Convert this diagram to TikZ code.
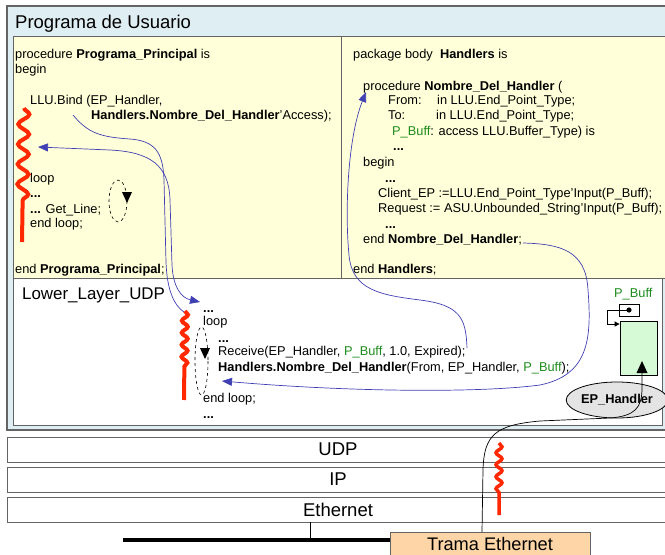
\documentclass[tikz,border=0pt]{standalone}
\usepackage{fontspec}
\setmainfont{Liberation Sans}
\usetikzlibrary{decorations.pathmorphing,arrows.meta,shapes.geometric}
\definecolor{outerbg}{RGB}{223,238,242}
\definecolor{framegray}{RGB}{100,100,100}
\definecolor{codebg}{RGB}{255,255,217}
\definecolor{linkblue}{RGB}{64,64,180}
\definecolor{threadred}{RGB}{255,40,0}
\definecolor{buffgreen}{RGB}{30,140,30}
\definecolor{buffbox}{RGB}{213,250,213}
\definecolor{tramafill}{RGB}{253,213,166}
\definecolor{ellgray}{RGB}{228,228,228}
\newcommand{\pbuf}{\textcolor{buffgreen}{P\_Buff}}
\begin{document}
\begin{tikzpicture}[x=1pt,y=-1pt,
  code/.style={anchor=base west,inner sep=0pt,font=\fontsize{12.8}{15}\selectfont},
  bigtxt/.style={anchor=base west,inner sep=0pt,font=\fontsize{18.5}{22}\selectfont},
  panel/.style={draw=framegray,line width=1pt},
  layerbox/.style={draw=framegray,line width=0.9pt,fill=white},
  layertxt/.style={inner sep=0pt,font=\fontsize{18.5}{22}\selectfont},
  link/.style={draw=linkblue,line width=0.7pt,-{Triangle[length=10pt,width=8pt]}},
  thread/.style={draw=threadred,line width=4pt,decorate},
  loopell/.style={draw=black,dashed,line width=0.6pt},
  looptip/.style={fill=black},
]
\useasboundingbox (0,0) rectangle (665,555);
\clip (0,0) rectangle (665,555);
% frames
\draw[panel,line width=1.3pt,fill=outerbg] (7,6) rectangle (690,430);
\draw[panel,fill=codebg] (13,36) rectangle (690,278);
\draw[panel] (341,36) -- (341,278);
\draw[panel,fill=white] (13,278) rectangle (662,425);
\node[bigtxt] (title) at (15,28) {Programa de Usuario};

% left panel code
\node[code] (pp1) at (15,58) {procedure \textbf{Programa\_Principal} is};
\node[code] (pp2) at (15,73) {begin};
\node[code] (bind1) at (30,104) {LLU.Bind (EP\_Handler,};
\node[code] (bind2) at (91,119) {\textbf{Handlers.Nombre\_Del\_Handler}'Access);};
\node[code] (lp1) at (30,182) {loop};
\node[code] (lp2) at (30,197) {\textbf{...}};
\node[code] (lp3) at (30,213) {\textbf{...} Get\_Line;};
\node[code] (lp4) at (30,227) {end loop;};
\node[code] (ppend) at (15,273) {end \textbf{Programa\_Principal};};

% right panel code
\node[code] (pkg) at (353,58) {package body\ \ \textbf{Handlers} is};
\node[code] (proc) at (363,90) {procedure \textbf{Nombre\_Del\_Handler} (};
\node[code] (from1) at (388,104) {From:};
\node[code] (from2) at (437,104) {in LLU.End\_Point\_Type;};
\node[code] (to1) at (388,119) {To:};
\node[code] (to2) at (436,119) {in LLU.End\_Point\_Type;};
\node[code] (pbp) at (392,135) {\pbuf: access LLU.Buffer\_Type) is};
\node[code] (d1) at (393,150) {\textbf{...}};
\node[code] (hbegin) at (363,166) {begin};
\node[code] (d2) at (385,182) {\textbf{...}};
\node[code] (cli) at (378,197) {Client\_EP :=LLU.End\_Point\_Type'Input(P\_Buff);};
\node[code] (req) at (378,212) {Request := ASU.Unbounded\_String'Input(P\_Buff);};
\node[code] (d3) at (385,228) {\textbf{...}};
\node[code] (endnh) at (363,243) {end \textbf{Nombre\_Del\_Handler};};
\node[code] (endh) at (353,273) {end \textbf{Handlers};};

% lower layer
\node[anchor=base west,inner sep=0pt,font=\fontsize{16.9}{20}\selectfont] (llu) at (22,299) {Lower\_Layer\_UDP};
\node[code] (u1) at (203,312) {\textbf{...}};
\node[code] (u2) at (203,325) {loop};
\node[code] (u3) at (218,342) {\textbf{...}};
\node[code] (recv) at (218,355) {Receive(EP\_Handler, \pbuf, 1.0, Expired);};
\node[code] (hcall) at (218,371) {\textbf{Handlers.Nombre\_Del\_Handler}(From, EP\_Handler, \pbuf);};
\node[code] (u4) at (203,402) {end loop;};
\node[code] (u5) at (203,418) {\textbf{...}};

% buffer
\node[code,text=buffgreen] (pbl) at (614,297) {P\_Buff};
\node[draw=black,line width=0.8pt,minimum width=20pt,minimum height=12pt,inner sep=0pt] (pbbox) at (629,310) {};
\fill (pbbox.center) circle (2.6pt);
\node[draw=black,line width=0.8pt,fill=buffbox,minimum width=37pt,minimum height=54pt,inner sep=0pt] (bufbox) at (638.5,348) {};
\draw[line width=0.8pt,-{Triangle[length=5pt,width=5pt]}] (pbbox.center) -- (607,310) -- (607,324) -- (bufbox.west |- 0,324);
\node[ellipse,draw=black,line width=0.8pt,fill=ellgray,minimum width=80pt,minimum height=36pt,inner sep=0pt,font=\bfseries\fontsize{12.8}{15}\selectfont] (eph) at (617,400) {EP\_Handler};

% layers
\draw[layerbox] (7,437) rectangle (690,462);
\draw[layerbox] (7,467) rectangle (690,492);
\draw[layerbox] (7,497) rectangle (690,522);
\node[layertxt] (udp) at (338,449.5) {UDP};
\node[layertxt] (ip) at (338,479.5) {IP};
\node[layertxt] (eth) at (338,509.5) {Ethernet};
\coordinate (tick) at (310.5,522);
\draw[line width=4pt] (123,540) -- (400,540);
\draw[line width=0.7pt] (tick) -- (310.5,540);
\node[draw=framegray,line width=0.8pt,fill=tramafill,anchor=north west,minimum width=200pt,minimum height=28pt,inner sep=0pt] (trama) at (390,532) {};
\node[anchor=base,inner sep=0pt,font=\fontsize{18.2}{20}\selectfont] (tramatxt) at (490,550.5) {Trama Ethernet};

% threads
\draw[thread,decoration={snake,amplitude=5.5pt,segment length=20pt,post=lineto,post length=38pt}] (24,108) -- (22,242);
\draw[thread,decoration={snake,amplitude=3pt,segment length=12pt,post=lineto,post length=28pt}] (185,311) -- (184,400);
\draw[thread,line width=3.5pt,decoration={snake,amplitude=3pt,segment length=12pt,post=lineto,post length=18pt}] (499,443) -- (499,515);

% loops
\draw[loopell] (118,201) ellipse [x radius=9,y radius=21];
\fill[looptip] (122,192) -- (132,192) -- (127,203) -- cycle;
\draw[loopell] (201.5,361) ellipse [x radius=6.5,y radius=34];
\fill[looptip] (200,348) -- (210,348) -- (205,359) -- cycle;

% blue links
\coordinate (bindout) at (73,115);
\coordinate (thtop) at (184,312);
\coordinate (mainret) at (38,147);
\coordinate (llucall) at (200,302);
\coordinate (recvend) at (467,348);
\coordinate (procin) at (366,92);
\coordinate (endout) at (523,243);
\coordinate (hcallin) at (222,381);
\draw[draw=linkblue,line width=0.7pt] (bindout) .. controls (88,133) and (100,137) .. (130,139)
   .. controls (155,141) and (163,152) .. (164,180) -- (166,262) .. controls (167,292) and (175,306) .. (thtop);
\draw[link,{Triangle[length=10pt,width=8pt]}-{Triangle[length=10pt,width=8pt]}] (mainret) -- (110,150)
   .. controls (150,152) and (169,165) .. (170,200) -- (172,265) .. controls (173,288) and (182,298) .. (llucall);
\draw[link] (recvend) .. controls (466,318) and (460,305) .. (420,300)
   .. controls (380,295) and (352,290) .. (349,255) .. controls (345,215) and (347,140) .. (procin);
\draw[link] (endout) .. controls (560,244) and (586,250) .. (588,290)
   .. controls (592,340) and (588,375) .. (540,385) .. controls (480,393) and (350,392) .. (hcallin);

% frame to handler
\coordinate (tramatop) at (482,532);
\coordinate (ephtip) at (642,361);
\draw[black,line width=0.7pt] (tramatop) -- (483,470)
   .. controls (484,435) and (495,425) .. (540,421) -- (610,418)
   .. controls (635,416) and (642,408) .. (642,388) -- (642,371);
\fill[black] (ephtip) -- (647.5,373) -- (636.5,373) -- cycle;
\end{tikzpicture}
\end{document}
